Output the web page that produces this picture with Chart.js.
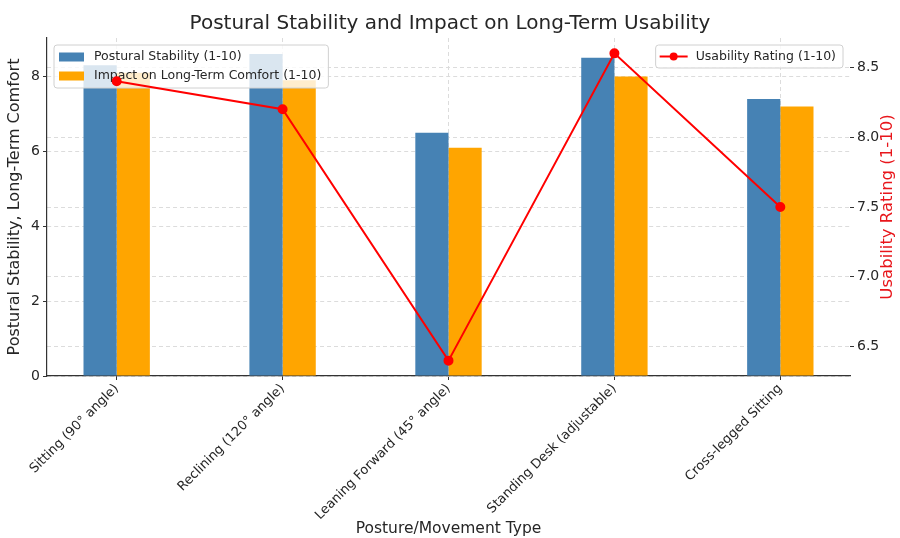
<!DOCTYPE html>
<html><head><meta charset="utf-8">
<script src="https://cdn.jsdelivr.net/npm/chart.js@4"></script>
<style>html,body{margin:0;padding:0;background:#fff}#wrap{width:900px;height:538px}</style>
</head><body><div id="wrap"><canvas id="c" width="900" height="538"></canvas></div>
<script>
const categories = ["Sitting (90° angle)", "Reclining (120° angle)", "Leaning Forward (45° angle)", "Standing Desk (adjustable)", "Cross-legged Sitting"];
const posturalStability = [8.3, 8.6, 6.5, 8.5, 7.4];
const comfortImpact = [8.1, 7.9, 6.1, 8.0, 7.2];
const usabilityRating = [8.4, 8.2, 6.4, 8.6, 7.5];
const leftTicks = [0, 2, 4, 6, 8];
const rightTicks = [6.5, 7.0, 7.5, 8.0, 8.5];

const FONT = "'DejaVu Sans', sans-serif";
const TXT = '#262626';
const GRID = '#dcdcdc';

function rr(ctx, x, y, w, h, r) {
  ctx.beginPath();
  ctx.moveTo(x + r, y);
  ctx.arcTo(x + w, y, x + w, y + h, r);
  ctx.arcTo(x + w, y + h, x, y + h, r);
  ctx.arcTo(x, y + h, x, y, r);
  ctx.arcTo(x, y, x + w, y, r);
  ctx.closePath();
}
function legendBox(ctx, x, y, w, h) {
  ctx.save();
  rr(ctx, x, y, w, h, 3);
  ctx.fillStyle = 'rgba(255,255,255,0.8)';
  ctx.fill();
  ctx.strokeStyle = '#d0d0d0';
  ctx.lineWidth = 1;
  ctx.stroke();
  ctx.restore();
}
function drawLegend1(chart) {
  const ctx = chart.ctx, ca = chart.chartArea;
  const ds = chart.data.datasets;
  ctx.save();
  ctx.font = '12.5px ' + FONT;
  const tw = Math.max(ctx.measureText(ds[0].label).width, ctx.measureText(ds[1].label).width);
  const x = ca.left + 7, y = ca.top + 7, w = 47 + tw, h = 43;
  legendBox(ctx, x, y, w, h);
  [0, 1].forEach((k) => {
    const cy = y + 12 + k * 19;
    ctx.fillStyle = ds[k].backgroundColor;
    ctx.fillRect(x + 5, cy - 4.5, 25, 9);
    ctx.fillStyle = TXT;
    ctx.textBaseline = 'middle';
    ctx.textAlign = 'left';
    ctx.fillText(ds[k].label, x + 40, cy);
  });
  ctx.restore();
}
function drawLegend2(chart) {
  const ctx = chart.ctx, ca = chart.chartArea;
  const d = chart.data.datasets[2];
  ctx.save();
  ctx.font = '12.5px ' + FONT;
  const tw = ctx.measureText(d.label).width;
  const w = 47 + tw, h = 23, x = ca.right - 7 - w, y = ca.top + 7;
  legendBox(ctx, x, y, w, h);
  const cy = y + 11.5;
  ctx.strokeStyle = d.borderColor; ctx.lineWidth = 2;
  ctx.beginPath(); ctx.moveTo(x + 4, cy); ctx.lineTo(x + 32, cy); ctx.stroke();
  ctx.fillStyle = d.borderColor;
  ctx.beginPath(); ctx.arc(x + 18, cy, 4, 0, Math.PI * 2); ctx.fill();
  ctx.fillStyle = TXT; ctx.textBaseline = 'middle'; ctx.textAlign = 'left';
  ctx.fillText(d.label, x + 40, cy);
  ctx.restore();
}
function drawRightTitle(chart) {
  const ctx = chart.ctx, ca = chart.chartArea;
  ctx.save();
  ctx.translate(888, (ca.top + ca.bottom) / 2);
  ctx.rotate(-Math.PI / 2);
  ctx.font = '16.5px ' + FONT;
  ctx.fillStyle = '#e8161b';
  ctx.textAlign = 'center'; ctx.textBaseline = 'middle';
  ctx.fillText('Usability Rating (1-10)', 0, 0);
  ctx.restore();
}
const overlay = {
  id: 'overlay',
  beforeDatasetDraw(chart, args) { if (args.meta.type === 'line') drawLegend1(chart); },
  afterDatasetsDraw(chart) { drawLegend2(chart); drawRightTitle(chart); }
};

const pts = (arr) => arr.map((v, i) => ({ x: i, y: v }));

new Chart(document.getElementById('c'), {
  data: {
    datasets: [
      { type: 'bar', label: 'Postural Stability (1-10)', data: pts(posturalStability), backgroundColor: '#4682b4', yAxisID: 'y', order: 1, categoryPercentage: 0.4, barPercentage: 1.0 },
      { type: 'bar', label: 'Impact on Long-Term Comfort (1-10)', data: pts(comfortImpact), backgroundColor: '#ffa500', yAxisID: 'y', order: 1, categoryPercentage: 0.4, barPercentage: 1.0 },
      { type: 'line', label: 'Usability Rating (1-10)', data: pts(usabilityRating), borderColor: '#ff0000', backgroundColor: '#ff0000', pointBackgroundColor: '#ff0000', pointBorderColor: '#ff0000', pointRadius: 4, borderWidth: 2, tension: 0, yAxisID: 'y1', order: 0 }
    ]
  },
  options: {
    responsive: false,
    animation: false,
    layout: { padding: { left: 0, right: 0, top: 0, bottom: 0 } },
    plugins: {
      legend: { display: false },
      tooltip: { enabled: false },
      title: { display: true, text: 'Postural Stability and Impact on Long-Term Usability', font: { family: FONT, size: 20, weight: 'normal' }, color: TXT, padding: { top: 12, bottom: 2 } }
    },
    scales: {
      x: {
        type: 'linear', min: -0.42, max: 4.42, offset: false, bounds: 'data',
        afterBuildTicks(s) { s.ticks = categories.map((_, i) => ({ value: i })); },
        ticks: { callback: (v) => categories[v], minRotation: 45, maxRotation: 45, autoSkip: false, font: { family: FONT, size: 13 }, color: TXT, padding: 1 },
        grid: { offset: false, color: GRID, tickColor: '#333', tickLength: 4 },
        border: { color: '#333', width: 1.2, dash: [4, 3] },
        title: { display: true, text: 'Posture/Movement Type', font: { family: FONT, size: 15.5 }, color: TXT, padding: { top: 0, bottom: 0 } },
        afterFit(s) { s.height = 162; }
      },
      y: {
        type: 'linear', position: 'left', min: 0, max: 9.03,
        afterBuildTicks(s) { s.ticks = leftTicks.map((v) => ({ value: v })); },
        ticks: { font: { family: FONT, size: 14 }, color: TXT, padding: 3 },
        grid: { color: GRID, tickColor: '#333', tickLength: 4 },
        border: { color: '#333', width: 1.2, dash: [4, 3] },
        title: { display: true, text: 'Postural Stability, Long-Term Comfort', font: { family: FONT, size: 16 }, color: TXT, padding: { top: 5, bottom: 0 } },
        afterFit(s) { s.width = 47; }
      },
      y1: {
        type: 'linear', position: 'right', min: 6.29, max: 8.71,
        afterBuildTicks(s) { s.ticks = rightTicks.map((v) => ({ value: v })); },
        ticks: { font: { family: FONT, size: 14 }, color: TXT, padding: 3, callback: (v) => Number(v).toFixed(1) },
        grid: { color: GRID, tickColor: '#333', tickLength: 4, drawOnChartArea: true },
        border: { display: false, dash: [4, 3] },
        title: { display: false },
        afterFit(s) { s.width = 50; }
      }
    }
  },
  plugins: [overlay]
});
</script>
</body></html>
